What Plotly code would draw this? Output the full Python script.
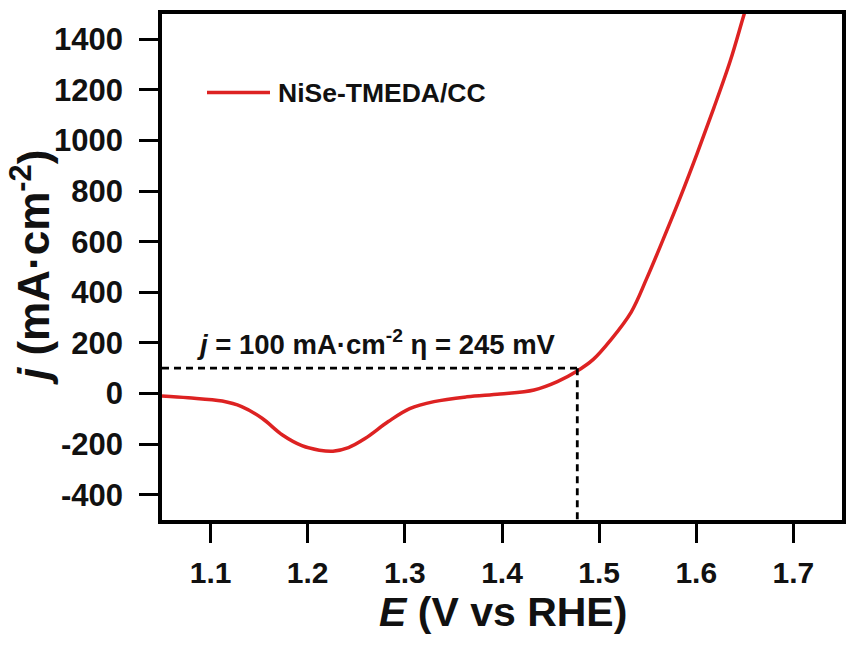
import plotly.graph_objects as go

# Data
E = [1.050, 1.077, 1.112, 1.132, 1.153, 1.174, 1.194, 1.212, 1.226, 1.242,
     1.259, 1.283, 1.305, 1.330, 1.364, 1.398, 1.433, 1.457, 1.477, 1.494,
     1.512, 1.533, 1.549, 1.566, 1.584, 1.601, 1.618, 1.635, 1.649, 1.655]
J = [-10, -17, -30, -52, -98, -164, -206, -224, -228, -214,
     -178, -111, -60, -32, -13, -2, 14, 47, 88, 135,
     212, 322, 455, 610, 780, 950, 1128, 1315, 1496, 1570]
series_name = "NiSe-TMEDA/CC"

ref_j = 100
ref_E = 1.4775
x_range = [1.05, 1.75]
y_range = [-500, 1500]
x_ticks = [1.1, 1.2, 1.3, 1.4, 1.5, 1.6, 1.7]
y_ticks = [-400, -200, 0, 200, 400, 600, 800, 1000, 1200, 1400]

FONT = "Liberation Sans, Arial, sans-serif"
RED = "#DD2222"

fig = go.Figure()

fig.add_trace(go.Scatter(
    x=E, y=J, mode="lines", name=series_name,
    line=dict(color=RED, width=3.5, shape="spline", smoothing=1.0),
    showlegend=False,
))

# reference dashed guides
fig.add_trace(go.Scatter(
    x=[x_range[0], ref_E], y=[ref_j, ref_j], mode="lines",
    line=dict(color="black", width=2.8, dash="7px,5px"), showlegend=False,
))
fig.add_trace(go.Scatter(
    x=[ref_E, ref_E], y=[ref_j, y_range[0]], mode="lines",
    line=dict(color="black", width=2.8, dash="7px,5px"), showlegend=False,
))

W, H = 846, 652
L, R, T, B = 162, 4, 14, 132
pw, ph = W - L - R, H - T - B

def px(xp):
    return (xp - L) / pw

def py(yp):
    return 1 - (yp - T) / ph

# manual legend
fig.add_shape(type="line", xref="paper", yref="paper",
              x0=px(207), x1=px(270), y0=py(92.5), y1=py(92.5),
              line=dict(color=RED, width=3.5))
fig.add_annotation(xref="paper", yref="paper", x=px(276), y=py(92.5),
                   xanchor="left", yanchor="middle", showarrow=False,
                   text="<b>" + series_name + "</b>",
                   font=dict(family=FONT, size=26.5, color="#111111"))

# overpotential annotation
fig.add_annotation(xref="paper", yref="paper", x=px(195), y=py(342),
                   xanchor="left", yanchor="middle", showarrow=False,
                   text="<b><i>j</i> = 100 mA·cm<sup>-2</sup> η = 245 mV</b>",
                   font=dict(family=FONT, size=27.5, color="#111111"))

# axis titles
fig.add_annotation(xref="paper", yref="paper", x=px(503), y=py(612),
                   xanchor="center", yanchor="middle", showarrow=False,
                   text="<b><i>E</i> (V vs RHE)</b>",
                   font=dict(family=FONT, size=41, color="#111111"))
fig.add_annotation(xref="paper", yref="paper", x=px(30), y=py(268),
                   xanchor="center", yanchor="middle", showarrow=False,
                   textangle=-90,
                   text="<b><i>j</i> (mA·cm<sup>-2</sup>)</b>",
                   font=dict(family=FONT, size=44, color="#111111"))

axis_common = dict(
    showline=True, linecolor="black", linewidth=3.5, mirror=True,
    ticks="outside", ticklen=19, tickwidth=3, tickcolor="black",
    showgrid=False, zeroline=False,
)

fig.update_xaxes(range=x_range, tickvals=x_ticks,
                 ticktext=["<b>%.1f</b>" % v for v in x_ticks],
                 tickfont=dict(family=FONT, size=30, color="#111111"),
                 ticklabelstandoff=4, **axis_common)
fig.update_yaxes(range=y_range, tickvals=y_ticks,
                 ticktext=["<b>%d</b>" % v for v in y_ticks],
                 tickfont=dict(family=FONT, size=31, color="#111111"),
                 ticklabelstandoff=10, **axis_common)

fig.update_layout(
    width=W, height=H,
    margin=dict(l=L, r=R, t=T, b=B, autoexpand=False),
    paper_bgcolor="white", plot_bgcolor="white",
    showlegend=False,
)

fig.write_html("out.html")
